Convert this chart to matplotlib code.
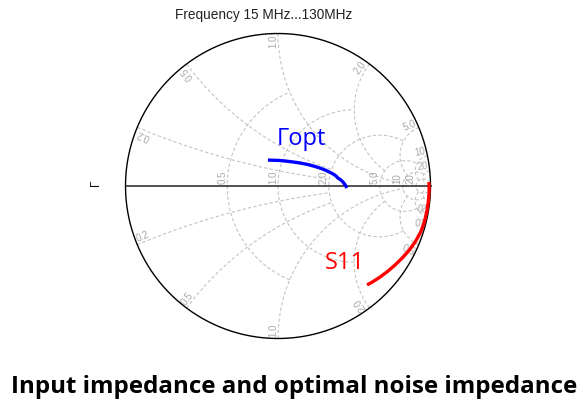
import numpy as np
import matplotlib.pyplot as plt

plt.rcParams['font.family'] = ['Liberation Sans', 'DejaVu Sans']

# smith chart grid: resistance circles and how far (|x|) they are drawn
r_vals = [0.5, 1.0, 2.0, 5.0, 10.0, 20.0]
r_xmax = [1.0, 2.0, 5.0, 10.0, 20.0, 50.0]
r_text = ['0.5', '1.0', '2.0', '5.0', '10', '20']
# reactance arcs and how far (r) they are drawn
x_vals = [0.2, 0.5, 1.0, 2.0, 5.0, 10.0, 20.0]
x_rmax = [2.0, 2.0, 10.0, 5.0, 10.0, 20.0, 50.0]
x_text = ['0.2', '0.5', '1.0', '2.0', '5.0', '10', '20']

# optimum noise reflection coefficient
gopt_re = [-0.066, 0.000, 0.046, 0.095, 0.144, 0.195, 0.243, 0.280, 0.308,
           0.336, 0.361, 0.380, 0.393, 0.412, 0.426, 0.440, 0.452]
gopt_im = [0.170, 0.168, 0.164, 0.158, 0.151, 0.141, 0.128, 0.116, 0.105,
           0.092, 0.079, 0.066, 0.052, 0.040, 0.026, 0.008, -0.013]
# input reflection S11, magnitude and angle in degrees
s11_mag = [0.990, 0.992, 0.991, 0.990, 0.988, 0.983, 0.972, 0.958, 0.942,
           0.926, 0.911, 0.896, 0.881, 0.873]
s11_ang = [1.5, -2, -6, -10, -14, -18, -22, -26, -30, -34, -38, -42, -46, -48]

W, H = 588, 415
cx, cy, R = 278, 186, 152.5

fig = plt.figure(figsize=(W / 100, H / 100), dpi=100, facecolor='white')
ax = fig.add_axes([0, 0, 1, 1])
ax.set_xlim(-cx / R, (W - cx) / R)
ax.set_ylim(-(H - cy) / R, cy / R)
ax.axis('off')

grid_kw = dict(color='#c4c4c4', linewidth=0.8, linestyle=(0, (3, 2)), zorder=1)
lab_kw = dict(color='#a9a9a9', fontsize=7, rotation_mode='anchor')


def gamma(z):
    return (z - 1) / (z + 1)


for r, xm in zip(r_vals, r_xmax):
    t = np.tan(np.linspace(-np.arctan(xm), np.arctan(xm), 400))
    g = gamma(r + 1j * t)
    ax.plot(g.real, g.imag, **grid_kw)

for x, rm in zip(x_vals, x_rmax):
    rr = np.tan(np.linspace(0, np.arctan(rm), 400))
    for s in (1, -1):
        g = gamma(rr + 1j * s * x)
        ax.plot(g.real, g.imag, **grid_kw)

# labels on the real axis
for r, txt in zip(r_vals, r_text):
    ax.text(gamma(r), 0.012, txt, rotation=90, ha='left', va='bottom', **lab_kw)

# labels round the border
for x, txt in zip(x_vals, x_text):
    g = gamma(1j * x) * 0.99
    ang = np.degrees(np.angle(g))
    ax.text(g.real, g.imag, txt, rotation=ang, ha='right', va='bottom', **lab_kw)
    ax.text(g.real, -g.imag, txt, rotation=180 - ang, ha='left', va='bottom', **lab_kw)

# outer circle and real axis
th = np.linspace(0, 2 * np.pi, 600)
ax.plot(np.cos(th), np.sin(th), color='black', linewidth=1.0, zorder=3)
ax.plot([-1, 1], [0, 0], color='#222222', linewidth=1.1, zorder=3)

s11 = np.array(s11_mag) * np.exp(1j * np.radians(s11_ang))
ax.plot(gopt_re, gopt_im, color='#0000ff', linewidth=2.4, zorder=5,
        solid_capstyle='butt', solid_joinstyle='round')
ax.plot(s11.real, s11.imag, color='#ff0000', linewidth=2.4, zorder=5,
        solid_capstyle='butt', solid_joinstyle='round')

ax.text((277 - cx) / R, (cy - 145) / R, 'Γopt', color='#0000ff', fontsize=17,
        family=['Open Sans', 'DejaVu Sans'], ha='left', va='baseline', zorder=6)
ax.text((325 - cx) / R, (cy - 269) / R, 'S11', color='#ff0000', fontsize=17,
        family=['Open Sans', 'DejaVu Sans'], ha='left', va='baseline', zorder=6)

fig.text(264 / W, 1 - 19 / H, 'Frequency 15 MHz...130MHz', fontsize=9.8,
         ha='center', va='baseline', color='#222222')
fig.text(96 / W, 1 - 183 / H, 'Γ', fontsize=8.5, rotation=90, ha='center', va='center')
fig.text(294 / W, 1 - 393 / H, 'Input impedance and optimal noise impedance',
         fontsize=17.4, fontweight='bold', family=['Open Sans', 'DejaVu Sans'],
         ha='center', va='baseline', color='black')

fig.savefig('out.png', dpi=100)
